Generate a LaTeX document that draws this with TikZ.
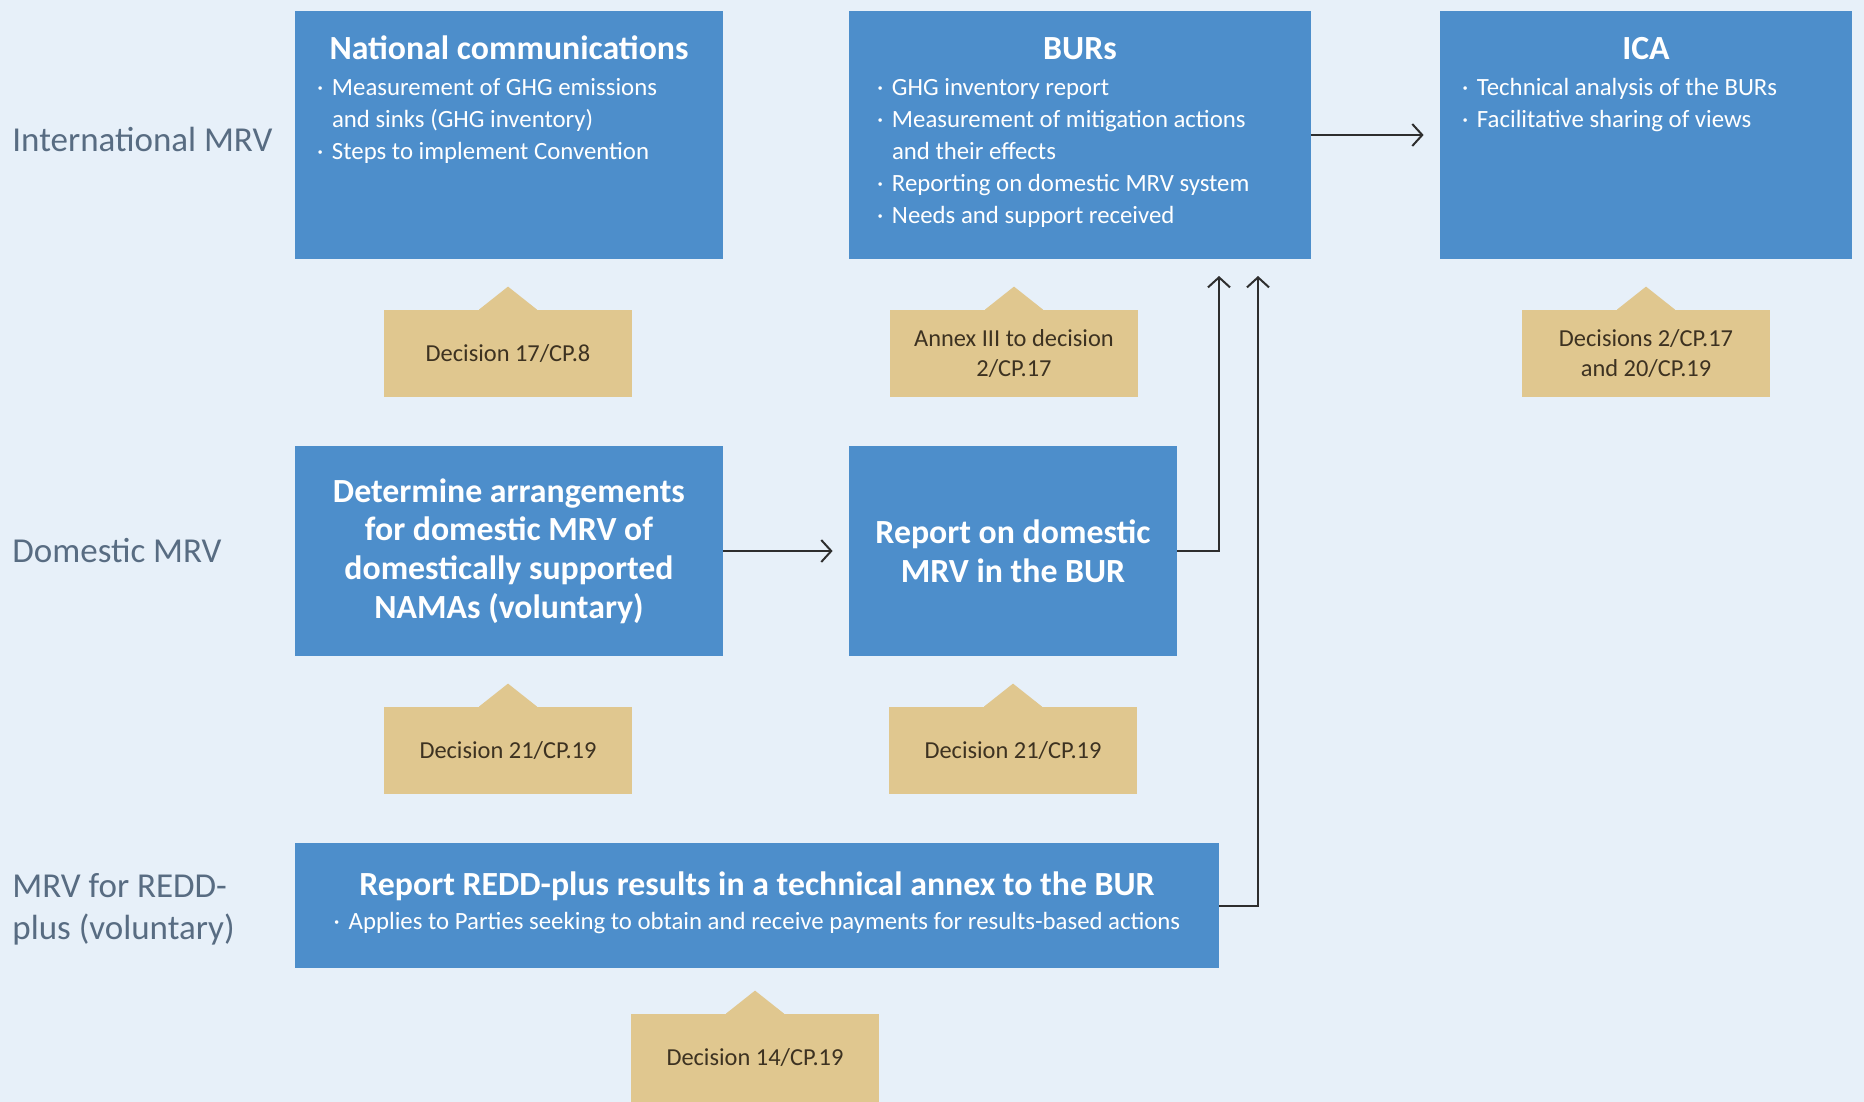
\documentclass[tikz,border=0pt]{standalone}
\usepackage{fontspec}
\setmainfont{Carlito}
\usetikzlibrary{arrows.meta,calc,positioning}

\definecolor{bgblue}{HTML}{E7F0F9}
\definecolor{boxblue}{HTML}{4D8ECB}
\definecolor{dectan}{HTML}{E0C78F}
\definecolor{dectext}{HTML}{3D3221}
\definecolor{rowtext}{HTML}{586C82}
\definecolor{linegray}{HTML}{2E2E2E}

\tikzset{
    mrvbox/.style={rectangle, fill=boxblue, inner sep=0pt, text=white, align=center,
        font=\fontsize{16.9}{19.3}\selectfont\bfseries},
    boxtitle/.style={anchor=base, text=white, inner sep=0pt,
        font=\fontsize{16.9}{19.3}\selectfont\bfseries},
    boxlist/.style={anchor=base west, text=white, inner sep=0pt,
        font=\fontsize{12.4}{16}\selectfont},
    dec/.style={rectangle, fill=dectan, text=dectext, inner sep=0pt,
        minimum width=124pt, minimum height=43.5pt, align=center,
        font=\fontsize{12.2}{15}\selectfont},
    rowlabel/.style={anchor=base west, text=rowtext, inner sep=0pt,
        font=\fontsize{17.5}{21}\selectfont},
    arr/.style={draw=linegray, line width=1pt, -{Straight Barb[length=5pt,width=11pt]}}
}
\newcommand{\bul}{\makebox[7.5pt][l]{·}}

\begin{document}
\begin{tikzpicture}[x=0.5pt, y=-0.5pt]
    \fill[bgblue] (0,0) rectangle (1864,1102);
    \useasboundingbox (0,0) rectangle (1864,1102);

    % row labels
    \node[rowlabel] (lint) at (12,152) {International MRV};
    \node[rowlabel] (ldom) at (12,562) {Domestic MRV};
    \node[rowlabel] (lredda) at (12,897) {MRV for REDD-};
    \node[rowlabel] (lreddb) at (12,939) {plus (voluntary)};

    % international row
    \node[mrvbox, minimum width=214pt, minimum height=124pt] (nc) at (509,135) {};
    \node[mrvbox, minimum width=231pt, minimum height=124pt] (burs) at (1080,135) {};
    \node[mrvbox, minimum width=206pt, minimum height=124pt] (ica) at (1646,135) {};
    \node[boxtitle] (nct) at ($(nc.north)+(0,49)$) {National communications};
    \node[boxtitle] (burst) at ($(burs.north)+(0,49)$) {BURs};
    \node[boxtitle] (icat) at ($(ica.north)+(0,49)$) {ICA};
    \node[boxlist] (ncl) at ($(nc.north west)+(22,85)$) {\begin{tabular}[t]{@{}l@{}l@{}}
        \bul & Measurement of GHG emissions\\
             & and sinks (GHG inventory)\\
        \bul & Steps to implement Convention
    \end{tabular}};
    \node[boxlist] (bursl) at ($(burs.north west)+(28,85)$) {\begin{tabular}[t]{@{}l@{}l@{}}
        \bul & GHG inventory report\\
        \bul & Measurement of mitigation actions\\
             & and their effects\\
        \bul & Reporting on domestic MRV system\\
        \bul & Needs and support received
    \end{tabular}};
    \node[boxlist] (ical) at ($(ica.north west)+(22,85)$) {\begin{tabular}[t]{@{}l@{}l@{}}
        \bul & Technical analysis of the BURs\\
        \bul & Facilitative sharing of views
    \end{tabular}};

    % domestic row
    \node[mrvbox, minimum width=214pt, minimum height=105pt] (det) at (509,551)
        {Determine arrangements\\for domestic MRV of\\domestically supported\\NAMAs (voluntary)};
    \node[mrvbox, minimum width=164pt, minimum height=105pt] (rep) at (1013,551)
        {Report on domestic\\MRV in the BUR};

    % REDD-plus row
    \node[mrvbox, minimum width=462pt, minimum height=62.5pt] (redd) at (757,905.5) {};
    \node[boxtitle] (reddt) at (757,895) {Report REDD-plus results in a technical annex to the BUR};
    \node[boxlist, anchor=base] (reddl) at (757,929)
        {\bul Applies to Parties seeking to obtain and receive payments for results-based actions};

    % decisions
    \node[dec] (d1) at (508,353.5) {Decision 17/CP.8};
    \node[dec] (d2) at (1014,353.5) {Annex III to decision\\2/CP.17};
    \node[dec] (d3) at (1646,353.5) {Decisions 2/CP.17\\and 20/CP.19};
    \node[dec] (d4) at (508,750.5) {Decision 21/CP.19};
    \node[dec] (d5) at (1013,750.5) {Decision 21/CP.19};
    \node[dec, minimum height=44pt] (d6) at (755,1058) {Decision 14/CP.19};
    \foreach \d in {d1,d2,d3,d4,d5,d6}
        \fill[dectan] ([xshift=-14.5pt, yshift=-1pt]\d.north) -- ([xshift=-14.5pt]\d.north)
            -- ([yshift=11.5pt]\d.north) -- ([xshift=14.5pt]\d.north)
            -- ([xshift=14.5pt, yshift=-1pt]\d.north) -- cycle;

    % connectors
    \coordinate (ina) at (1219,276);
    \coordinate (inb) at (1258,276);
    \draw[arr, shorten >=8pt] (burs) -- (ica);
    \draw[arr, shorten >=8pt] (det) -- (rep);
    \draw[arr] (rep.east) -| (ina);
    \draw[arr] (redd.east) -| (inb);
\end{tikzpicture}
\end{document}
